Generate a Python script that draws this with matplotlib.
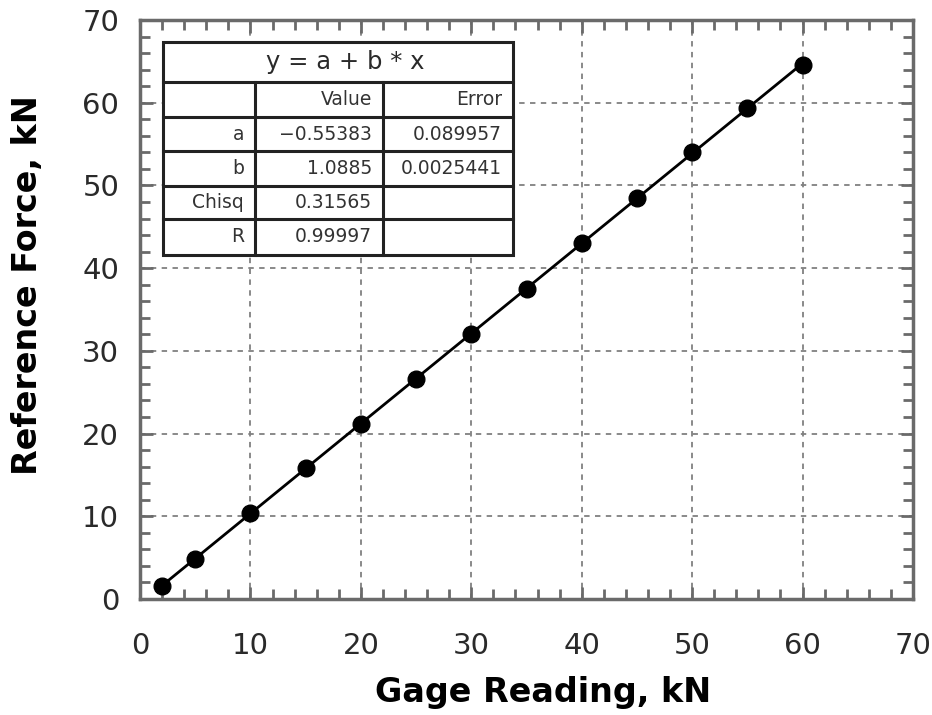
import matplotlib
matplotlib.use("Agg")
import matplotlib.pyplot as plt
from matplotlib.patches import Rectangle
from matplotlib.ticker import MultipleLocator
import numpy as np

# ---- data ----
gage = [2, 5, 10, 15, 20, 25, 30, 35, 40, 45, 50, 55, 60]
ref_force = [1.6, 4.8, 10.4, 15.8, 21.2, 26.6, 32.0, 37.5, 43.0, 48.5, 54.0, 59.4, 64.6]
fit_a = -0.55383
fit_b = 1.0885
table_title = "y = a + b * x"
table_header = ["", "Value", "Error"]
table_rows = [["a", "\u22120.55383", "0.089957"],
              ["b", "1.0885", "0.0025441"],
              ["Chisq", "0.31565", ""],
              ["R", "0.99997", ""]]
x_ticks = [0, 10, 20, 30, 40, 50, 60, 70]
y_ticks = [0, 10, 20, 30, 40, 50, 60, 70]

plt.rcParams['font.family'] = ['DejaVu Sans']

W, H = 932, 715
fig = plt.figure(figsize=(W / 100, H / 100), dpi=100)
L, R, T, B = 140, 913, 20, 599
ax = fig.add_axes([L / W, 1 - B / H, (R - L) / W, (B - T) / H])

ax.set_xlim(0, 70)
ax.set_ylim(0, 70)
ax.set_xticks(x_ticks)
ax.set_yticks(y_ticks)
ax.xaxis.set_minor_locator(MultipleLocator(2))
ax.yaxis.set_minor_locator(MultipleLocator(2))
spine_col = '#6a6a6a'
for s in ax.spines.values():
    s.set_color(spine_col)
    s.set_linewidth(2.5)
ax.tick_params(which='both', direction='in', top=True, right=True,
               color=spine_col, width=2)
ax.tick_params(which='major', length=9, labelsize=21, labelcolor='#2a2a2a')
ax.tick_params(axis='x', which='major', pad=24)
ax.tick_params(axis='y', which='major', pad=15)
ax.tick_params(which='minor', length=7)
ax.grid(True, which='major', color='#808080', linestyle=(0, (3, 3)), linewidth=1.3)
ax.set_axisbelow(True)

# fit line
xs = np.array([gage[0], gage[-1]])
ax.plot(xs, fit_a + fit_b * xs, color='black', lw=2, zorder=3)
ax.plot(gage, ref_force, 'o', color='black', ms=12, zorder=4)

ax.set_xlabel("Gage Reading, kN", fontsize=24, fontweight='bold')
ax.set_ylabel("Reference Force, kN", fontsize=24, fontweight='bold')
ax.xaxis.set_label_coords(0.522, -0.133)
ax.yaxis.set_label_coords(-0.124, 0.542)

# ---- fit table (drawn in pixel->axes coords) ----
def ax_x(px):
    return (px - L) / (R - L)

def ax_y(py):
    return (B - py) / (B - T)

col_edges = [163, 255, 383, 513]
row_edges = [42, 82, 117, 151, 186, 219, 255]
lw_t = 2.2
ax.add_patch(Rectangle((ax_x(col_edges[0]), ax_y(row_edges[-1])),
                       ax_x(col_edges[-1]) - ax_x(col_edges[0]),
                       ax_y(row_edges[0]) - ax_y(row_edges[-1]),
                       transform=ax.transAxes, facecolor='white',
                       edgecolor='#222222', lw=lw_t, zorder=5))
for ry in row_edges[1:-1]:
    ax.plot([ax_x(col_edges[0]), ax_x(col_edges[-1])], [ax_y(ry)] * 2,
            transform=ax.transAxes, color='#222222', lw=lw_t, zorder=6)
for cx in col_edges[1:-1]:
    ax.plot([ax_x(cx)] * 2, [ax_y(row_edges[1]), ax_y(row_edges[-1])],
            transform=ax.transAxes, color='#222222', lw=lw_t, zorder=6)
ax.text((ax_x(col_edges[0]) + ax_x(col_edges[-1])) / 2 + 0.01,
        (ax_y(row_edges[0]) + ax_y(row_edges[1])) / 2, table_title,
        transform=ax.transAxes, ha='center', va='center', fontsize=17.5,
        color='#2a2a2a', zorder=7)
all_rows = [table_header] + table_rows
for i, row in enumerate(all_rows):
    yc = (ax_y(row_edges[i + 1]) + ax_y(row_edges[i + 2])) / 2
    for j, txt in enumerate(row):
        if not txt:
            continue
        ax.text(ax_x(col_edges[j + 1] - 11), yc, txt, transform=ax.transAxes,
                ha='right', va='center', fontsize=13.5, color='#333333', zorder=7)

fig.savefig("out.png", dpi=100)
